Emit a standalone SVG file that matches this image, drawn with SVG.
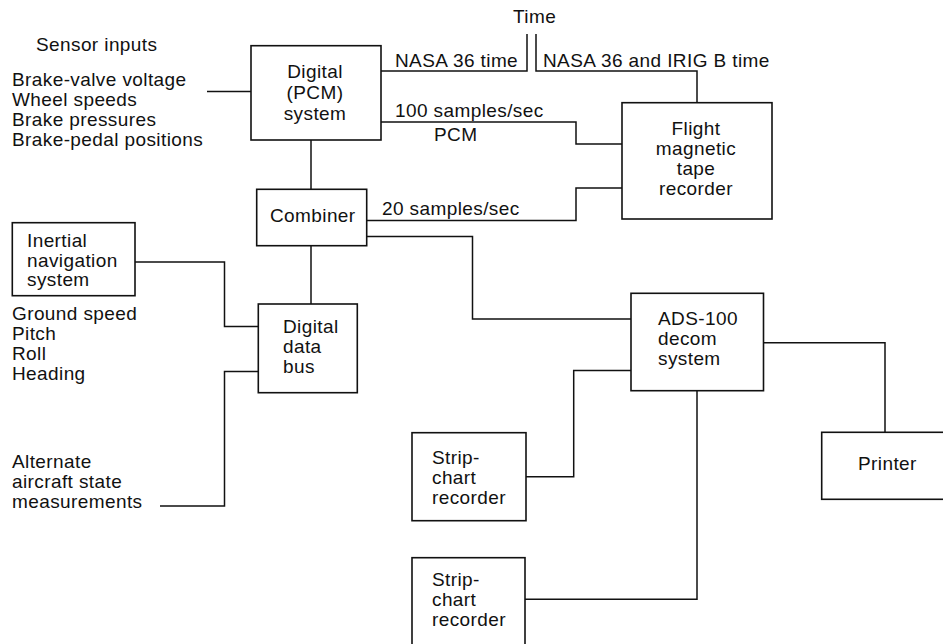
<svg xmlns="http://www.w3.org/2000/svg" width="943" height="644" viewBox="0 0 943 644">
  <style>
    .box { fill: #fff; stroke: #111; stroke-width: 1.6; }
    .wire { fill: none; stroke: #111; stroke-width: 1.5; }
    text { font-family: "Liberation Sans", Arial, Helvetica, sans-serif; font-size: 19px; fill: #111; letter-spacing: 0.4px; }
    .mid { text-anchor: middle; }
  </style>
  <rect width="943" height="644" fill="#fff"/>

  <!-- connectors -->
  <g id="connectors">
    <path class="wire" d="M207,91.5 H251"/>
    <path class="wire" d="M381,71 H527 V34"/>
    <path class="wire" d="M536,34 V71 H697 V103"/>
    <path class="wire" d="M381,122 H576 V144 H622"/>
    <path class="wire" d="M311,140 V189.3"/>
    <path class="wire" d="M366.7,220.5 H576 V188 H622"/>
    <path class="wire" d="M366.7,236.5 H472.5 V319 H631"/>
    <path class="wire" d="M311,245.7 V304"/>
    <path class="wire" d="M135,262 H224.5 V326.5 H258.3"/>
    <path class="wire" d="M160,506 H224.5 V371.5 H258.3"/>
    <path class="wire" d="M631,370.5 H573.7 V476.7 H526"/>
    <path class="wire" d="M697,390.7 V599.3 H525"/>
    <path class="wire" d="M763.5,342.7 H885 V432.3"/>
  </g>

  <!-- free labels -->
  <g id="labels">
    <text x="36" y="51">Sensor inputs</text>
    <text x="12" y="86">Brake-valve voltage</text>
    <text x="12" y="106">Wheel speeds</text>
    <text x="12" y="126">Brake pressures</text>
    <text x="12" y="146">Brake-pedal positions</text>
    <text x="513" y="23">Time</text>
    <text x="395" y="67">NASA 36 time</text>
    <text x="543" y="67">NASA 36 and IRIG B time</text>
    <text x="395" y="117">100 samples/sec</text>
    <text x="434" y="141">PCM</text>
    <text x="382" y="215">20 samples/sec</text>
    <text x="12" y="320">Ground speed</text>
    <text x="12" y="340">Pitch</text>
    <text x="12" y="360">Roll</text>
    <text x="12" y="380">Heading</text>
    <text x="12" y="468">Alternate</text>
    <text x="12" y="488">aircraft state</text>
    <text x="12" y="508">measurements</text>
  </g>

  <g id="pcm">
    <rect class="box" x="251" y="45.7" width="130" height="94.3"/>
    <text class="mid" x="315" y="78">Digital</text>
    <text class="mid" x="315" y="99">(PCM)</text>
    <text class="mid" x="315" y="119.5">system</text>
  </g>

  <g id="tape-recorder">
    <rect class="box" x="622" y="102.7" width="150" height="116.3"/>
    <text class="mid" x="696" y="135">Flight</text>
    <text class="mid" x="696" y="155">magnetic</text>
    <text class="mid" x="696" y="175">tape</text>
    <text class="mid" x="696" y="195">recorder</text>
  </g>

  <g id="combiner">
    <rect class="box" x="256.7" y="189.3" width="110" height="56.4"/>
    <text x="270" y="222">Combiner</text>
  </g>

  <g id="ins">
    <rect class="box" x="12.3" y="222.7" width="122.7" height="73"/>
    <text x="27" y="247">Inertial</text>
    <text x="27" y="266.5">navigation</text>
    <text x="27" y="286">system</text>
  </g>

  <g id="data-bus">
    <rect class="box" x="258.3" y="304" width="99" height="88.7"/>
    <text x="283" y="333">Digital</text>
    <text x="283" y="353">data</text>
    <text x="283" y="373">bus</text>
  </g>

  <g id="ads100">
    <rect class="box" x="631" y="293.3" width="132.5" height="97.4"/>
    <text x="658" y="325">ADS-100</text>
    <text x="658" y="345">decom</text>
    <text x="658" y="365">system</text>
  </g>

  <g id="strip-chart-1">
    <rect class="box" x="412" y="432.7" width="114" height="88"/>
    <text x="432" y="463.5">Strip-</text>
    <text x="432" y="483.5">chart</text>
    <text x="432" y="503.5">recorder</text>
  </g>

  <g id="strip-chart-2">
    <rect class="box" x="412" y="557.7" width="113" height="95"/>
    <text x="432" y="585.7">Strip-</text>
    <text x="432" y="605.7">chart</text>
    <text x="432" y="626">recorder</text>
  </g>

  <g id="printer">
    <rect class="box" x="821.7" y="432.3" width="130" height="67"/>
    <text x="858" y="470">Printer</text>
  </g>
</svg>
